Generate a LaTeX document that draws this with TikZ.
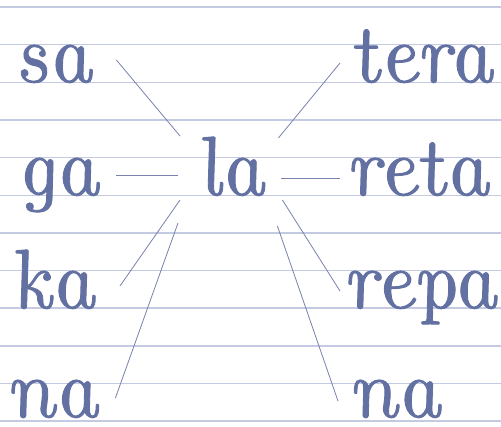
\documentclass[tikz,border=0pt]{standalone}
\usepackage{fontspec}
\newfontfamily\handfont{lmroman10-italic}[Extension=.otf,FakeBold=1]
\usetikzlibrary{calc}
\definecolor{ink}{RGB}{98,112,162}
\definecolor{ruling}{RGB}{196,202,226}
\definecolor{pencil}{RGB}{120,130,172}

\begin{document}
\begin{tikzpicture}[x=1pt,y=-1pt,
    word/.style={anchor=base west,inner sep=0pt,text=ink,xslant=-0.22,transform shape,
      font=\handfont\fontsize{84}{84}\selectfont},
    link/.style={draw=pencil,line width=0.8pt},
    rule/.style={draw=ruling,line width=1.5pt}]
    \useasboundingbox [fill=white] (0,0) rectangle (501,426);
    \foreach \k in {0,...,11}
    \draw [rule] (0,7+37.65*\k) -- (501,7+37.65*\k);

    % words on the left, the centre and the right
    \node [word,minimum width=86pt] (sa) at (12,82) {sa};
    \node [word,minimum width=90pt] (ga) at (15,195) {ga};
    \node [word,minimum width=77pt] (ka) at (15,308) {ka};
    \node [word,minimum width=96pt] (naL) at (7,417) {na};
    \node [word,minimum width=68pt] (la) at (200,195) {la};
    \node [word,minimum width=140pt] (tera) at (354,82) {tera};
    \node [word,minimum width=125pt] (reta) at (350,195) {reta};
    \node [word,minimum width=140pt] (repa) at (347,308) {repa};
    \node [word,minimum width=95pt] (naR) at (350,417) {na};

    \draw [link] ($(sa.base east)+(18,-22)$) -- ($(la.base west)+(-20,-59)$);
    \draw [link] ($(ga.base east)+(11,-20)$) -- ($(la.base west)+(-22,-20)$);
    \draw [link] ($(ka.base east)+(23,-22)$) -- ($(la.base west)+(-20,5)$);
    \draw [link] ($(naL.base east)+(12,-19)$) -- ($(la.base west)+(-22,28)$);
    \draw [link] ($(la.base east)+(10,-57)$) -- ($(tera.base west)+(-14,-19)$);
    \draw [link] ($(la.base east)+(13,-17)$) -- ($(reta.base west)+(-10,-17)$);
    \draw [link] ($(la.base east)+(14,5)$) -- ($(repa.base west)+(-7,-17)$);
    \draw [link] ($(la.base east)+(9,31)$) -- ($(naR.base west)+(-12,-16)$);
\end{tikzpicture}
\end{document}
